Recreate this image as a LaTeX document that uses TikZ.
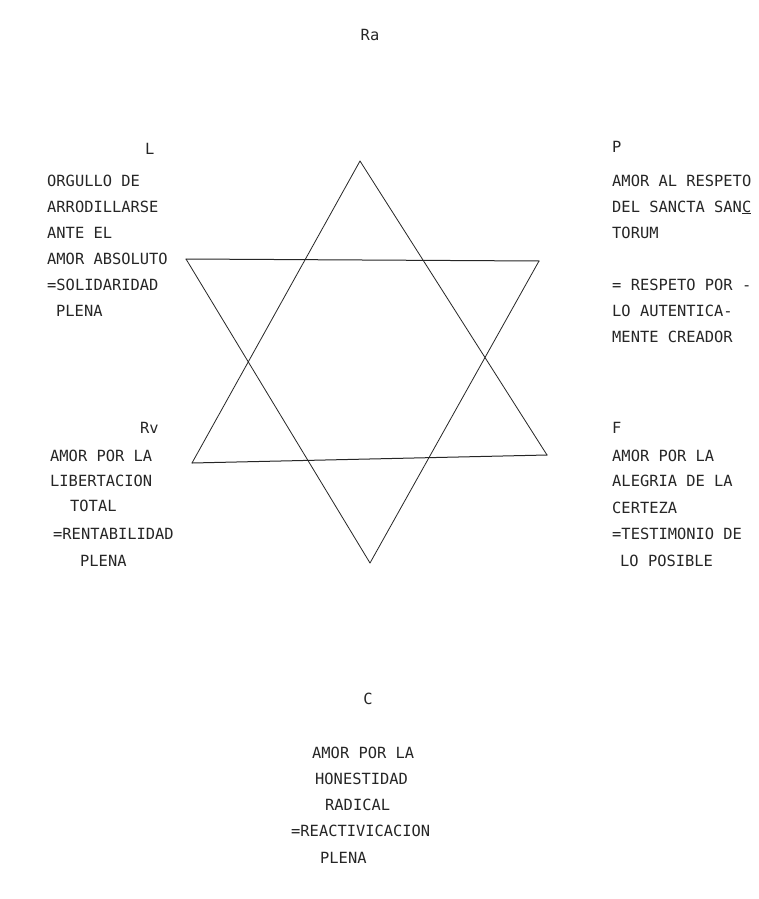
\documentclass[tikz,border=0pt]{standalone}
\usepackage{fontspec}
\newfontfamily\tw{DejaVu Sans Mono}
\begin{document}
\begin{tikzpicture}[x=1pt,y=-1pt,
  txt/.style={anchor=base west,inner sep=0pt,font=\tw\fontsize{15.4}{26}\selectfont,text=black!85},
  ctr/.style={anchor=base,inner sep=0pt,font=\tw\fontsize{15.4}{26}\selectfont,text=black!85},
  edge/.style={line width=0.8pt,black!85,line cap=round}]
\useasboundingbox (0,0) rectangle (759,899);
\fill[white] (0,0) rectangle (759,899);
% star vertices
\coordinate (ut) at (360,161);
\coordinate (ul) at (192,463);
\coordinate (ur) at (547,455);
\coordinate (dl) at (186,259);
\coordinate (dr) at (539,261);
\coordinate (db) at (370,563);
\draw[edge] (ut) -- (ul);
\draw[edge] (ut) -- (ur);
\draw[edge,line width=1pt] (ul) -- (ur);
\draw[edge,line width=1pt] (dl) -- (dr);
\draw[edge] (dl) -- (db);
\draw[edge] (dr) -- (db);
% top
\node[ctr] (ra) at (370,41) {Ra};
% L block
\node[txt] (l) at (145,154) {L};
\node[txt] (l1) at (47,186) {ORGULLO DE};
\node[txt] (l2) at (47,212) {ARRODILLARSE};
\node[txt] (l3) at (47,238) {ANTE EL};
\node[txt] (l4) at (47,264) {AMOR ABSOLUTO};
\node[txt] (l5) at (47,290) {=SOLIDARIDAD};
\node[txt] (l6) at (56,316) {PLENA};
% P block
\node[txt] (p) at (612,152) {P};
\node[txt] (p1) at (612,186) {AMOR AL RESPETO};
\node[txt] (p2) at (612,212) {DEL SANCTA SAN\underline{C}};
\node[txt] (p3) at (612,238) {TORUM};
\node[txt] (p4) at (612,290) {= RESPETO POR -};
\node[txt] (p5) at (612,316) {LO AUTENTICA-};
\node[txt] (p6) at (612,342) {MENTE CREADOR};
% Rv block
\node[txt] (rv) at (140,433) {Rv};
\node[txt] (r1) at (50,461) {AMOR POR LA};
\node[txt] (r2) at (50,486) {LIBERTACION};
\node[txt] (r3) at (70,511) {TOTAL};
\node[txt] (r4) at (53,539) {=RENTABILIDAD};
\node[txt] (r5) at (80,566) {PLENA};
% F block
\node[txt] (f) at (612,433) {F};
\node[txt] (f1) at (612,461) {AMOR POR LA};
\node[txt] (f2) at (612,486) {ALEGRIA DE LA};
\node[txt] (f3) at (612,513) {CERTEZA};
\node[txt] (f4) at (612,539) {=TESTIMONIO DE};
\node[txt] (f5) at (620,566) {LO POSIBLE};
% C block
\node[ctr] (c) at (368,704) {C};
\node[txt] (c1) at (312,758) {AMOR POR LA};
\node[txt] (c2) at (315,784) {HONESTIDAD};
\node[txt] (c3) at (325,810) {RADICAL};
\node[txt] (c4) at (291,836) {=REACTIVICACION};
\node[txt] (c5) at (320,863) {PLENA};
\end{tikzpicture}
\end{document}
